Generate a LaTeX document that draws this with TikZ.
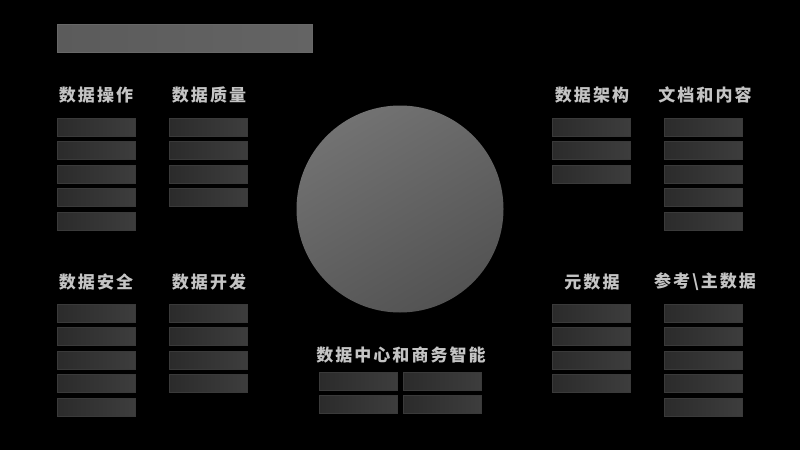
\documentclass[tikz,border=0pt]{standalone}
\usepackage{fontspec}
\newfontfamily\cjk[LetterSpace=12]{Noto Sans CJK SC}
\begin{document}
\begin{tikzpicture}[x=1pt,y=-1pt,
  bar/.style={rectangle,minimum width=78pt,minimum height=18pt,inner sep=0pt,
    left color=barL,right color=barR,draw=barB,line width=0.6pt},
  lbl/.style={text=lblC,font=\cjk\bfseries\fontsize{17}{17}\selectfont,inner sep=0pt},
  topbar/.style={rectangle,minimum width=255pt,minimum height=28pt,inner sep=0pt,
    left color=topL,right color=topR,draw=topB,line width=0.6pt},
  disc/.style={circle,minimum size=207pt,inner sep=0pt,
    top color=circT,bottom color=circB,shading angle=30}]
\definecolor{barL}{HTML}{2B2B2B}
\definecolor{barR}{HTML}{3D3D3D}
\definecolor{barB}{HTML}{3A3A3A}
\definecolor{topL}{HTML}{5B5B5B}
\definecolor{topR}{HTML}{646464}
\definecolor{topB}{HTML}{686868}
\definecolor{lblC}{HTML}{C4C4C4}
\definecolor{circT}{HTML}{727272}
\definecolor{circB}{HTML}{535353}
\fill[black] (0,0) rectangle (800,450);
\useasboundingbox (0,0) rectangle (800,450);

\node[topbar] (title) at (184.5,38) {};
\node[disc] (center) at (400,209) {};

% labels
\node[lbl] (l1) at (96,95) {数据操作};
\node[lbl] (l2) at (209,95) {数据质量};
\node[lbl] (l3) at (592,95) {数据架构};
\node[lbl] (l4) at (705,95) {文档和内容};
\node[lbl] (l5) at (96,282) {数据安全};
\node[lbl] (l6) at (209,282) {数据开发};
\node[lbl] (l7) at (592,282) {元数据};
\node[lbl] (l8) at (705,282) {参考\textbackslash 主数据};
\node[lbl] (l9) at (401,355) {数据中心和商务智能};

% bar columns
\foreach \i in {0,...,4} \node[bar] (a\i) at (96,127+23.5*\i) {};
\foreach \i in {0,...,3} \node[bar] (b\i) at (208.5,127+23.5*\i) {};
\foreach \i in {0,...,2} \node[bar] (c\i) at (591,127+23.5*\i) {};
\foreach \i in {0,...,4} \node[bar] (d\i) at (703.5,127+23.5*\i) {};
\foreach \i in {0,...,4} \node[bar] (e\i) at (96,313+23.5*\i) {};
\foreach \i in {0,...,3} \node[bar] (f\i) at (208.5,313+23.5*\i) {};
\foreach \i in {0,...,3} \node[bar] (g\i) at (591,313+23.5*\i) {};
\foreach \i in {0,...,4} \node[bar] (h\i) at (703.5,313+23.5*\i) {};
\foreach \i in {0,1} {
  \node[bar] (m\i) at (358,381+23*\i) {};
  \node[bar] (n\i) at (442,381+23*\i) {};
}
\end{tikzpicture}
\end{document}
